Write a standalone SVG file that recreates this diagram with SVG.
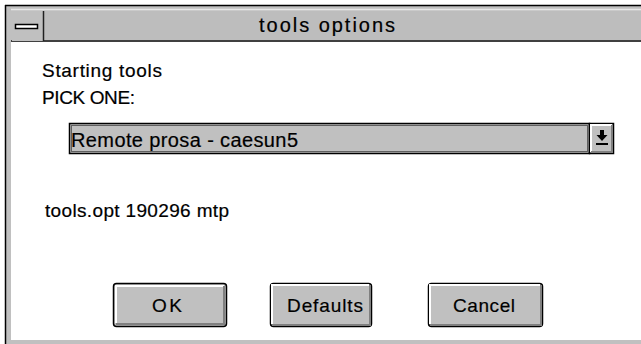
<svg xmlns="http://www.w3.org/2000/svg" width="641" height="344" viewBox="0 0 641 344">
<style>
text{font-family:"Liberation Sans",Arial,sans-serif;fill:#000;stroke:#000;stroke-width:0.2}
.lbl{font-size:19px}
.btn{fill:#c0c0c0;stroke:#000;stroke-width:1.5}
.hi{stroke:#fff;stroke-width:2;fill:none}
.sh{stroke:#808080;stroke-width:2;fill:none}
</style>
<rect x="0" y="0" width="641" height="344" fill="#fff"/>
<g id="frame">
<rect x="6" y="6" width="635" height="338" fill="#c0c0c0"/>
<line x1="5.5" y1="5" x2="5.5" y2="344" stroke="#000" stroke-width="1.5"/>
<line x1="5" y1="5.5" x2="641" y2="5.5" stroke="#000" stroke-width="1.5"/>
<line x1="11" y1="9.5" x2="641" y2="9.5" stroke="#e8e8e8" stroke-width="1.5"/>
<rect x="12" y="11" width="629" height="30" fill="#bdbdbd"/>
<line x1="11" y1="41" x2="641" y2="41" stroke="#404040" stroke-width="2"/>
<rect x="11" y="42" width="630" height="298" fill="#fff"/>
</g>
<g id="closebox">
<rect x="12" y="11" width="31" height="30" fill="#c0c0c0"/>
<line x1="43.5" y1="11" x2="43.5" y2="41" stroke="#202020" stroke-width="1.5"/>
<rect x="15.5" y="24.5" width="22" height="4" fill="#fff" stroke="#000" stroke-width="1.5"/>
</g>
<g id="title">
<text x="259" y="32" font-size="20" textLength="136" lengthAdjust="spacing">tools options</text>
</g>
<g id="labels">
<text class="lbl" x="42" y="77" textLength="120" lengthAdjust="spacing">Starting tools</text>
<text class="lbl" x="42" y="104" textLength="93" lengthAdjust="spacing">PICK ONE:</text>
<text class="lbl" x="45" y="217" textLength="184" lengthAdjust="spacing">tools.opt 190296 mtp</text>
</g>
<g id="combo">
<rect x="69.5" y="123.5" width="520" height="30" fill="#c0c0c0" stroke="#000" stroke-width="1.5"/>
<rect x="71.5" y="125.5" width="516" height="26" fill="none" stroke="#000" stroke-width="1" stroke-dasharray="1,1"/>
<text x="71" y="147" font-size="20" textLength="227" lengthAdjust="spacing">Remote prosa - caesun5</text>
<rect x="589.5" y="123.5" width="24" height="30" fill="#c0c0c0" stroke="#000" stroke-width="1.5"/>
<polyline points="591,152 591,125 612,125" class="hi"/>
<polyline points="591,152 612,152 612,125" class="sh"/>
<rect x="600" y="130" width="4" height="5" fill="#000"/>
<path d="M596.5 135 L607.5 135 L602 141 Z" fill="#000"/>
<line x1="596" y1="144" x2="608" y2="144" stroke="#000" stroke-width="2"/>
</g>
<g id="btn-ok">
<rect x="113.5" y="283.5" width="113" height="43" rx="3" class="btn" stroke-width="2.5"/>
<polyline points="116,323 116,286 224,286" class="hi"/>
<polyline points="116,324 224,324 224,286" class="sh"/>
<text x="152" y="312" font-size="19" textLength="30" lengthAdjust="spacing">OK</text>
</g>
<g id="btn-defaults">
<rect x="270.5" y="283.5" width="101" height="43" rx="3" class="btn"/>
<polyline points="272,324 272,285 369,285" class="hi"/>
<polyline points="272,325 370,325 370,285" class="sh"/>
<text x="287" y="312" font-size="19" textLength="76" lengthAdjust="spacing">Defaults</text>
</g>
<g id="btn-cancel">
<rect x="428.5" y="283.5" width="114" height="43" rx="3" class="btn"/>
<polyline points="430,324 430,285 540,285" class="hi"/>
<polyline points="430,325 541,325 541,285" class="sh"/>
<text x="453" y="312" font-size="19" textLength="62" lengthAdjust="spacing">Cancel</text>
</g>
<g id="connectors"/>
</svg>
